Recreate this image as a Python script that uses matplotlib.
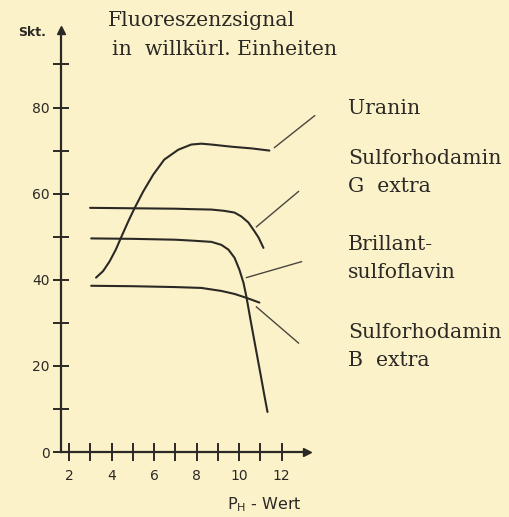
import matplotlib.pyplot as plt

# curves (pH, signal in Skt.)
uranin_ph = [3.27, 3.6, 3.9, 4.2, 4.5, 4.8, 5.07, 5.49, 5.96, 6.48, 7.14, 7.75,
             8.23, 8.7, 9.64, 10.6, 11.43]
uranin_val = [40.5, 42.0, 44.2, 47.0, 50.4, 53.7, 56.5, 60.5, 64.4, 67.9, 70.2, 71.4,
              71.6, 71.4, 70.9, 70.5, 70.0]

rhod_g_ph = [2.99, 5.0, 7.0, 7.75, 8.7, 9.31, 9.79, 10.11, 10.44, 10.68, 10.92, 11.15]
rhod_g_val = [56.7, 56.6, 56.5, 56.4, 56.3, 56.0, 55.6, 54.7, 53.3, 51.6, 49.8, 47.4]

flavin_ph = [3.04, 5.0, 7.0, 7.75, 8.7, 9.17, 9.5, 9.79, 10.02, 10.21, 10.35,
             10.54, 10.73, 10.88, 11.03, 11.18, 11.34]
flavin_val = [49.6, 49.5, 49.3, 49.1, 48.8, 48.1, 47.0, 45.1, 42.3, 39.3, 36.0,
              30.7, 25.6, 21.6, 17.6, 13.5, 9.3]

rhod_b_ph = [3.04, 5.0, 7.0, 8.23, 9.17, 9.79, 10.35, 10.96]
rhod_b_val = [38.6, 38.5, 38.3, 38.1, 37.4, 36.7, 35.8, 34.7]

# leader lines from curves to their names
leaders = [
    ([11.67, 13.56], [70.7, 78.1]),
    ([10.82, 12.80], [52.3, 60.5]),
    ([10.35, 12.94], [40.5, 44.2]),
    ([10.82, 12.80], [33.7, 25.3]),
]

x_major = [2, 4, 6, 8, 10, 12]
x_minor = [3, 5, 7, 9, 11]
y_major = [0, 20, 40, 60, 80]
y_minor = [10, 30, 50, 70, 90]

names = ['Uranin', 'Sulforhodamin', 'G  extra', 'Brillant-', 'sulfoflavin',
         'Sulforhodamin', 'B  extra']
name_rows = [108, 159, 186, 245, 272, 333, 360]

paper = '#fcf2c9'
ink = '#2b2925'

fig = plt.figure(figsize=(5.10, 5.17), dpi=100)
fig.patch.set_facecolor(paper)

W, H = 510, 517
ax = fig.add_axes([61 / W, (H - 452) / H, (307 - 61) / W, (452 - 30) / H])
ax.set_facecolor(paper)
ax.set_xlim(1.62, 13.2)
ax.set_ylim(0, 98)

for xs, ys in [(uranin_ph, uranin_val), (rhod_g_ph, rhod_g_val),
               (flavin_ph, flavin_val), (rhod_b_ph, rhod_b_val)]:
    ax.plot(xs, ys, color=ink, lw=1.5, clip_on=False,
            solid_capstyle='round', solid_joinstyle='round')

for xs, ys in leaders:
    ax.plot(xs, ys, color='#4a4740', lw=1.0, clip_on=False)

# axes with arrows
for s in ['top', 'right']:
    ax.spines[s].set_visible(False)
for s in ['left', 'bottom']:
    ax.spines[s].set_color(ink)
    ax.spines[s].set_linewidth(1.6)
ax.plot(1, 0, '>', color=ink, ms=6, transform=ax.transAxes, clip_on=False)
ax.plot(0, 1, '^', color=ink, ms=6, transform=ax.transAxes, clip_on=False)

ax.set_xticks(x_major)
ax.set_xticks(x_minor, minor=True)
ax.set_yticks(y_major)
ax.set_yticks(y_minor, minor=True)
ax.tick_params(which='both', direction='inout', color=ink, width=1.4,
               labelsize=10, labelcolor=ink)
ax.tick_params(axis='x', which='both', length=13, pad=6)
ax.tick_params(axis='y', which='both', length=12, pad=2)

serif = 'DejaVu Serif'
fig.text(32 / W, 1 - 33 / H, 'Skt.', ha='center', va='center', fontsize=9,
         fontweight='bold', color=ink)
fig.text(108 / W, 1 - 21 / H, 'Fluoreszenzsignal', ha='left', va='center',
         fontsize=14.7, family=serif, color=ink)
fig.text(112 / W, 1 - 50 / H, 'in  willkürl. Einheiten', ha='left', va='center',
         fontsize=14.7, family=serif, color=ink)

for txt, py in zip(names, name_rows):
    fig.text(348 / W, 1 - py / H, txt, ha='left', va='center',
             fontsize=14.7, family=serif, color=ink)

fig.text(264 / W, 1 - 505 / H, r'P$_\mathregular{H}$ - Wert', ha='center',
         va='center', fontsize=11.5, color=ink)

fig.savefig('out.png', dpi=100, facecolor=paper)
